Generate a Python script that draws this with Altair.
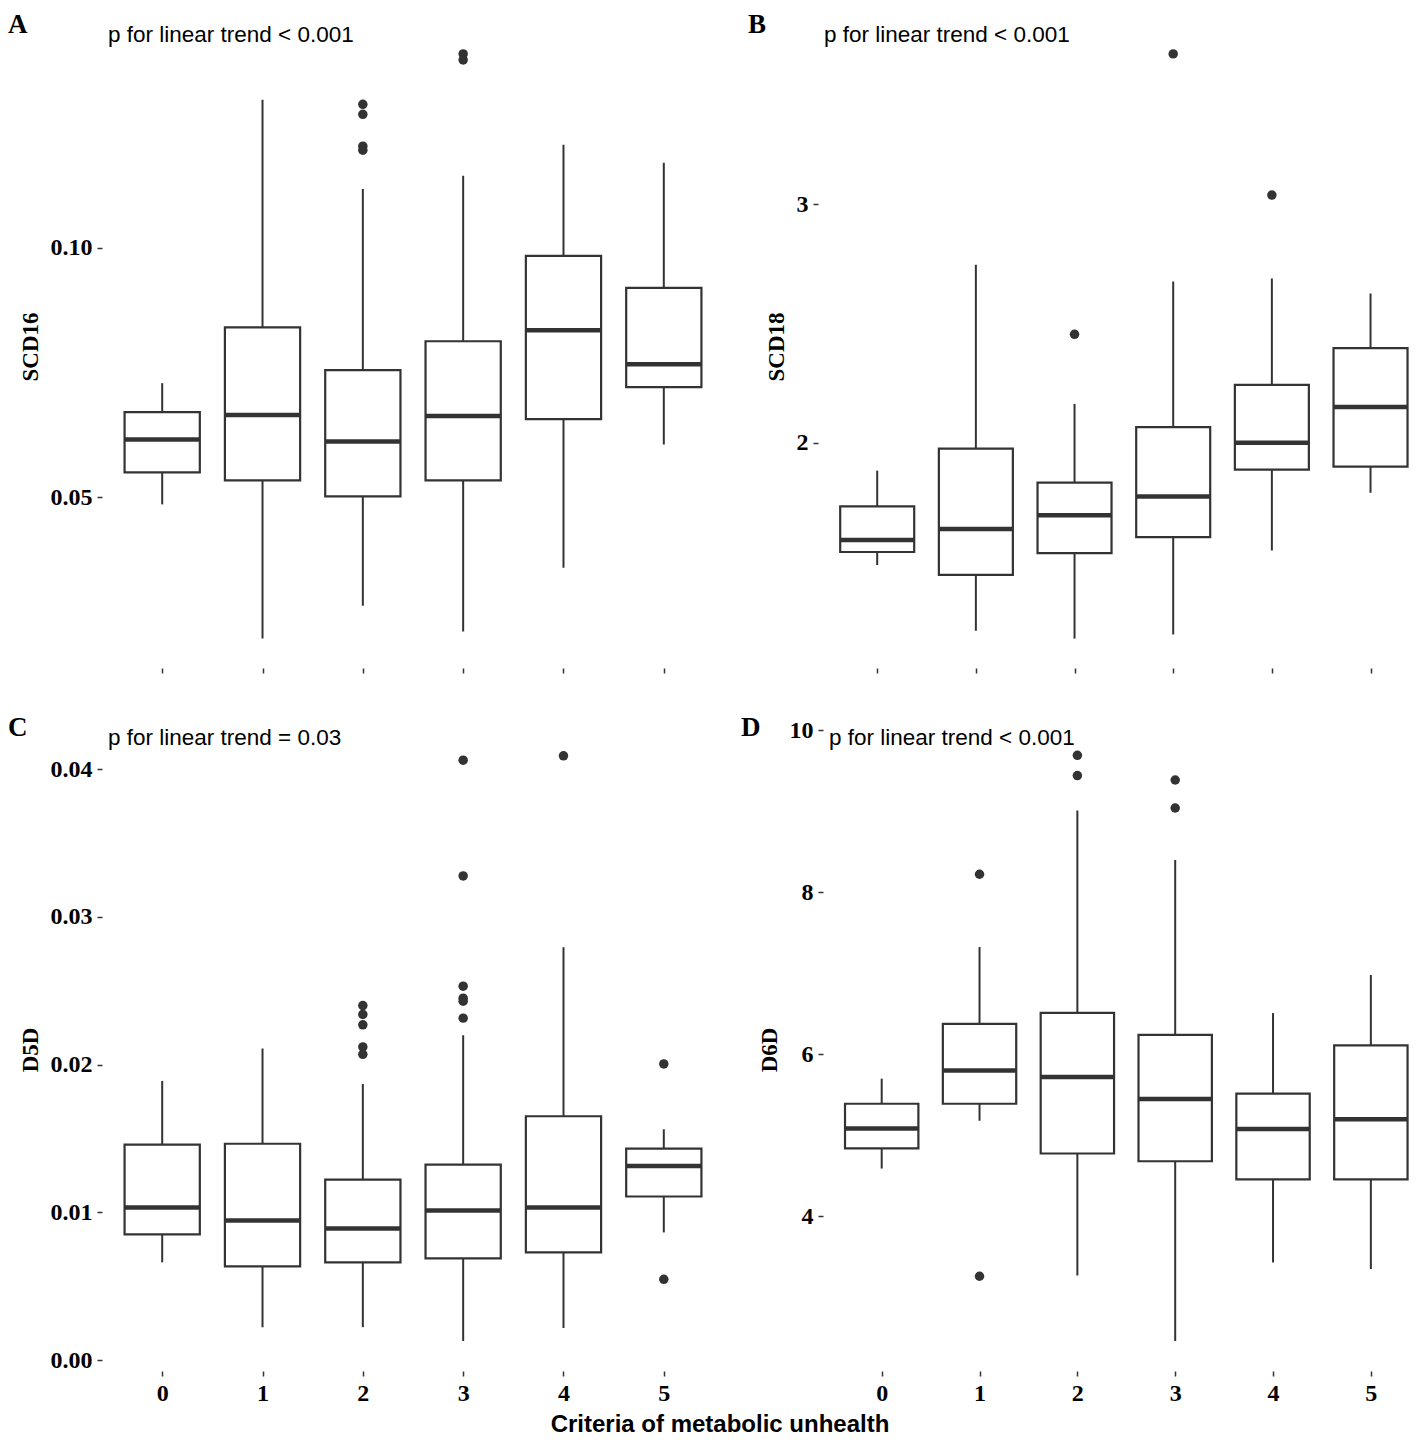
import altair as alt
import pandas as pd

GROUPS = [0, 1, 2, 3, 4, 5]

# Panel A: SCD16
A_LOW = [0.0486, 0.0217, 0.0283, 0.0231, 0.0359, 0.0606]
A_Q1 = [0.0550, 0.0534, 0.0502, 0.0534, 0.0657, 0.0721]
A_MED = [0.0616, 0.0665, 0.0612, 0.0663, 0.0835, 0.0767]
A_Q3 = [0.0671, 0.0841, 0.0755, 0.0813, 0.0984, 0.0920]
A_HIGH = [0.0729, 0.1297, 0.1118, 0.1145, 0.1207, 0.1171]
A_OUT_G = [2, 2, 2, 2, 3, 3]
A_OUT_V = [0.1288, 0.1268, 0.1204, 0.1196, 0.1389, 0.1377]

# Panel B: SCD18
B_LOW = [1.4875, 1.2125, 1.179, 1.196, 1.548, 1.79]
B_Q1 = [1.542, 1.446, 1.5375, 1.604, 1.8875, 1.90]
B_MED = [1.592, 1.638, 1.696, 1.775, 2.0, 2.15]
B_Q3 = [1.733, 1.975, 1.833, 2.065, 2.242, 2.396]
B_HIGH = [1.883, 2.746, 2.1625, 2.675, 2.6875, 2.625]
B_OUT_G = [2, 3, 4]
B_OUT_V = [2.454, 3.629, 3.0375]

# Panel C: D5D
C_LOW = [0.00663, 0.00224, 0.00224, 0.0013, 0.00218, 0.00865]
C_Q1 = [0.00852, 0.00636, 0.00663, 0.0069, 0.0073, 0.01108]
C_MED = [0.01034, 0.00946, 0.00892, 0.01013, 0.01034, 0.01314]
C_Q3 = [0.01459, 0.01465, 0.01223, 0.01324, 0.01651, 0.01432]
C_HIGH = [0.0189, 0.0211, 0.0187, 0.0220, 0.02794, 0.01563]
C_OUT_G = [2, 2, 2, 2, 2, 3, 3, 3, 3, 3, 3, 4, 5, 5]
C_OUT_V = [0.0240, 0.0234, 0.0227, 0.0212, 0.0207,
           0.0406, 0.03277, 0.02531, 0.0245, 0.0243, 0.02315,
           0.0409, 0.02005, 0.00548]

# Panel D: D6D
D_LOW = [4.59, 5.18, 3.27, 2.46, 3.43, 3.35]
D_Q1 = [4.84, 5.39, 4.776, 4.68, 4.456, 4.456]
D_MED = [5.084, 5.80, 5.72, 5.45, 5.078, 5.198]
D_Q3 = [5.39, 6.377, 6.512, 6.24, 5.515, 6.11]
D_HIGH = [5.70, 7.325, 9.01, 8.40, 6.51, 6.98]
D_OUT_G = [1, 1, 2, 2, 3, 3]
D_OUT_V = [8.224, 3.26, 9.693, 9.443, 9.388, 9.042]

SERIF = "Liberation Serif"
SANS = "Liberation Sans"
INK = "#333333"


def panel(letter, low, q1, med, q3, high, out_g, out_v, ydom, yvals, yfmt,
          ytitle, note, width, height, xmax, letter_dx, bottom):
    box = pd.DataFrame({"g": GROUPS, "low": low, "q1": q1, "med": med,
                        "q3": q3, "high": high})
    outs = pd.DataFrame({"g": out_g, "v": out_v})
    xs = alt.Scale(domain=[-0.6, xmax], nice=False, zero=False)
    xa = alt.Axis(values=GROUPS, format="d", labels=bottom, title=None,
                  domain=False, grid=False, tickSize=5, tickColor=INK,
                  tickWidth=1.5, labelFont=SERIF, labelFontWeight="bold",
                  labelFontSize=24, labelColor="black", labelPadding=5)
    ys = alt.Scale(domain=ydom, nice=False, zero=False)
    ya = alt.Axis(title=ytitle, values=yvals, format=yfmt, domain=False,
                  grid=False, tickSize=5, tickColor=INK, tickWidth=1.5,
                  labelFont=SERIF, labelFontWeight="bold", labelFontSize=24,
                  labelColor="black", labelPadding=5, titleFont=SERIF,
                  titleFontWeight="bold", titleFontSize=23,
                  titleColor="black", titlePadding=8)
    base = alt.Chart(box)
    whisk = base.mark_rule(color=INK, strokeWidth=2).encode(
        x=alt.X("g:Q", scale=xs, axis=xa),
        y=alt.Y("low:Q", scale=ys, axis=ya),
        y2="high:Q",
    )
    edges = base.transform_calculate(x1="datum.g - 0.375",
                                     x2="datum.g + 0.375")
    rect = edges.mark_rect(fill="white", stroke=INK, strokeWidth=2.2).encode(
        x=alt.X("x1:Q", scale=xs, axis=xa),
        x2="x2:Q",
        y=alt.Y("q1:Q", scale=ys, axis=ya),
        y2="q3:Q",
    )
    medl = edges.mark_rule(color=INK, strokeWidth=4.5).encode(
        x=alt.X("x1:Q", scale=xs, axis=xa),
        x2="x2:Q",
        y=alt.Y("med:Q", scale=ys, axis=ya),
    )
    pts = alt.Chart(outs).mark_circle(size=90, color=INK, opacity=1).encode(
        x=alt.X("g:Q", scale=xs, axis=xa),
        y=alt.Y("v:Q", scale=ys, axis=ya),
    )
    note_t = alt.Chart(pd.DataFrame({"t": [note]})).mark_text(
        align="left", baseline="middle", font=SANS, fontSize=22.5,
        color="black"
    ).encode(x=alt.value(6), y=alt.value(10), text="t:N")
    let = alt.Chart(pd.DataFrame({"t": [letter]})).mark_text(
        align="left", baseline="top", font=SERIF, fontWeight="bold",
        fontSize=27, color="black"
    ).encode(x=alt.value(letter_dx), y=alt.value(-13), text="t:N")
    return alt.layer(whisk, rect, medl, pts, note_t, let).properties(
        width=width, height=height)


H = 643
pA = panel("A", A_LOW, A_Q1, A_MED, A_Q3, A_HIGH, A_OUT_G, A_OUT_V,
           [0.0158, 0.1447], [0.05, 0.10], ".2f", "SCD16",
           "p for linear trend < 0.001", 622, H, 5.6, -94, False)
pB = panel("B", B_LOW, B_Q1, B_MED, B_Q3, B_HIGH, B_OUT_G, B_OUT_V,
           [1.056, 3.75], [2, 3], "d", "SCD18",
           "p for linear trend < 0.001", 592, H, 5.4, -70, False)
pC = panel("C", C_LOW, C_Q1, C_MED, C_Q3, C_HIGH, C_OUT_G, C_OUT_V,
           [-0.000725, 0.04278], [0.0, 0.01, 0.02, 0.03, 0.04], ".2f", "D5D",
           "p for linear trend = 0.03", 622, H, 5.6, -94, True)
pD = panel("D", D_LOW, D_Q1, D_MED, D_Q3, D_HIGH, D_OUT_G, D_OUT_V,
           [2.09, 10.03], [4, 6, 8, 10], "d", "D6D",
           "p for linear trend < 0.001", 587, H, 5.4, -82, True)

top = alt.hconcat(pA, pB, spacing=24)
bot = alt.hconcat(pC, pD, spacing=17)
chart = alt.vconcat(top, bot, spacing=40).properties(
    title=alt.TitleParams("Criteria of metabolic unhealth", orient="bottom",
                          anchor="middle", font=SANS, fontSize=24,
                          fontWeight="bold", color="black", offset=8, dx=11),
    padding={"top": 3, "left": 0, "right": 0, "bottom": 0},
    background="white",
).configure_view(stroke=None)

chart.save("out.html", embed_options={"renderer": "svg", "actions": False})
